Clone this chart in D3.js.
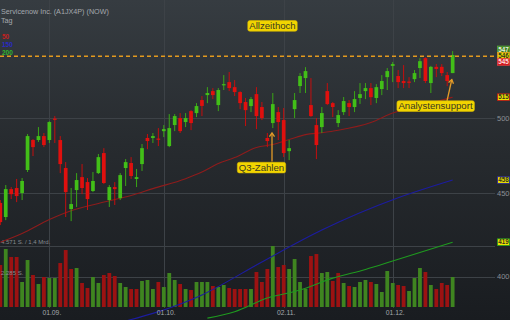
<!DOCTYPE html>
<html><head><meta charset="utf-8">
<script src="https://cdn.jsdelivr.net/npm/d3@7"></script>
<style>html,body{margin:0;padding:0;background:#1b1e22;overflow:hidden}svg{display:block}</style>
</head><body><svg id="c" width="510" height="320"></svg>
<script>
// ---- data ----
const dates = ["19.08.","20.08.","21.08.","24.08.","25.08.","26.08.","27.08.","28.08.","31.08.",
"01.09.","02.09.","03.09.","04.09.","08.09.","09.09.","10.09.","11.09.","14.09.","15.09.","16.09.","17.09.","18.09.","21.09.","22.09.","23.09.","24.09.","25.09.","28.09.","29.09.","30.09.",
"01.10.","02.10.","05.10.","06.10.","07.10.","08.10.","09.10.","12.10.","13.10.","14.10.","15.10.","16.10.","19.10.","20.10.","21.10.","22.10.","23.10.","26.10.","27.10.","28.10.","29.10.","30.10.",
"02.11.","03.11.","04.11.","05.11.","06.11.","09.11.","10.11.","11.11.","12.11.","13.11.","16.11.","17.11.","18.11.","19.11.","20.11.","23.11.","24.11.","25.11.","27.11.","30.11.",
"01.12.","02.12.","03.12.","04.12.","07.12.","08.12.","09.12.","10.12.","11.12.","14.12.","15.12.","16.12."];
const open  = [443.8,435.1,452.5,453.2,450.0,464.8,484.8,484.8,487.5,484.8,499.6,484.8,466.1,440.0,451.9,460.2,457.0,451.3,462.8,476.0,445.6,453.8,446.8,466.1,469.4,459.0,468.7,486.2,486.2,485.8,490.9,480.7,495.1,500.0,497.2,504.9,503.5,512.8,516.4,519.3,509.2,523.7,525.9,522.2,518.6,511.4,508.5,517.1,507.8,486.2,496.5,504.2,498.6,477.3,506.3,523.0,528.9,509.2,495.1,493.7,519.3,510.6,496.5,504.2,510.6,507.8,514.3,519.3,521.5,514.3,520.8,529.6,538.0,530.4,526.7,526.3,528.1,536.4,543.9,525.2,537.3,537.3,531.1,532.6];
const high  = [445.6,455.1,453.8,459.0,459.6,488.9,485.5,493.7,489.6,497.8,501.4,487.5,470.0,453.2,462.8,468.7,459.6,463.5,475.4,479.3,455.1,457.0,462.8,472.0,473.3,465.5,482.1,488.9,489.6,493.0,495.1,502.8,502.8,503.5,503.5,505.6,510.6,515.7,522.2,521.5,521.5,531.1,533.4,527.4,519.2,514.3,515.0,522.2,511.4,489.6,517.9,507.8,507.1,484.8,517.9,532.6,537.1,528.9,500.0,507.8,525.2,511.4,505.6,515.0,512.8,519.3,525.2,525.2,525.2,524.4,531.1,536.4,540.9,534.9,538.6,529.6,534.9,543.9,544.6,538.0,539.4,539.4,533.4,549.3];
const low   = [430.2,433.2,446.2,444.3,445.6,463.5,474.0,483.5,480.0,482.8,482.8,462.8,435.1,432.6,441.3,449.3,439.4,450.6,462.2,455.7,441.3,442.5,445.6,454.5,459.0,453.8,464.2,478.6,482.8,480.7,486.8,480.0,490.9,489.6,493.7,491.6,500.7,501.4,510.6,513.5,504.9,520.1,519.3,515.7,506.3,494.4,504.2,492.3,498.6,480.0,493.0,484.8,473.3,471.3,500.0,517.9,517.9,500.8,472.0,489.6,509.2,500.7,493.7,502.1,501.4,504.2,510.0,513.5,509.2,510.6,516.4,520.1,525.9,521.5,521.5,521.5,525.9,528.9,525.2,517.9,529.6,530.4,522.9,532.6];
const close = [432.0,452.5,449.3,448.1,457.7,487.5,480.0,487.5,481.4,497.2,498.9,468.7,450.6,443.1,458.3,453.2,446.2,457.7,473.3,456.4,453.8,452.5,461.5,470.0,460.9,460.2,479.3,484.1,487.5,485.5,492.3,493.0,501.4,490.9,500.0,496.5,508.5,508.6,517.9,516.4,520.1,524.4,521.5,518.6,510.6,505.6,513.5,501.4,500.0,484.1,509.9,497.2,476.0,479.3,512.8,530.4,534.1,501.4,481.4,503.5,509.9,507.8,502.1,512.1,507.8,513.5,517.1,521.5,514.9,522.2,526.7,534.1,539.4,525.9,525.2,525.9,532.6,541.6,526.7,537.3,535.7,532.6,526.7,546.3];
const volume = [3146,4345,3746,3746,1873,3521,2397,1723,2247,2172,2172,3296,4270,2847,2922,1798,1423,2247,1798,2397,2547,2322,1798,1498,1348,1348,1948,2023,1348,1873,1498,2547,2023,1723,1348,1273,1873,1873,1873,1573,1498,1648,1423,1348,1348,1348,1348,2622,1873,2847,4571,2996,3146,2847,3595,1873,1348,3820,3970,2547,2622,1948,2547,1798,1573,1498,1873,2023,1873,1723,1124,2697,1798,1648,1573,1198,2172,2922,2622,1648,1348,1798,1648,2247];
// moving averages, sampled at candle indices (0-based)
const sma50Idx  = [0,4,9,13,18,24,28,34,37,40,43,47,50,53,56,59,62,68,72,78,83];
const sma50     = [420.0,425.2,433.6,439.0,443.5,448.4,452.8,459.2,463.5,469.0,473.0,479.8,481.8,485.1,488.5,489.8,491.5,496.9,503.5,509.6,514.9];
const sma150Idx = [19,37,48,59,73,83];
const sma150    = [373.0,390.0,408.5,427.2,447.0,458.3];
const sma200Idx = [38,43,49,55,61,67,72,83];
const sma200    = [377.5,380.9,388.3,392.7,399.3,404.2,409.0,420.0];
const priceTicks = [400,450,500];
const volTicks = [2285,4571];
const volTickLabels = ["2.285 S.","4.571 S. / 1,4 Mrd."];
const dateTicks = ["01.09.","01.10.","02.11.","01.12."];
const athValue = 545.4;
const rightLabels = [
  {t:"547", v:547.0, bg:"#3b7d22", fg:"#e6f2dc", bd:"#58a83a"},
  {t:"546", v:545.4, bg:"#efe400", fg:"#33331f", bd:"#e09a20"},
  {t:"545", v:545.0, bg:"#d4161c", fg:"#ffe0e0", bd:"#e84040"},
  {t:"515", v:514.9, bg:"#efe400", fg:"#33331f", bd:"#c01515"},
  {t:"458", v:458.3, bg:"#efe400", fg:"#33331f", bd:"#2020a8"},
  {t:"419", v:420.0, bg:"#efe400", fg:"#33331f", bd:"#20a020"}
];
const notes = [
  {t:"Allzeithoch", cx:272.5, cy:25.8},
  {t:"Q3-Zahlen", cx:261.5, cy:167.5},
  {t:"Analystensupport", cx:435.5, cy:106}
];

// ---- drawing ----
const W=510, H=320;
const svg = d3.select("#c");
const defs = svg.append("defs");
const g = defs.append("linearGradient").attr("id","bg").attr("x1",0).attr("y1",0).attr("x2",0).attr("y2",1);
g.append("stop").attr("offset","0%").attr("stop-color","#363c41");
g.append("stop").attr("offset","45%").attr("stop-color","#272b2f");
g.append("stop").attr("offset","100%").attr("stop-color","#191c20");
svg.append("rect").attr("width",W).attr("height",H).attr("fill","url(#bg)");

const x = d3.scaleLinear().domain([0, dates.length-1]).range([0.3, 452.65]);
const y = d3.scaleLog().domain([376.5, 590.2]).range([320, 0]);
const yv = d3.scaleLinear().domain([0, volTicks[1]]).range([307, 246]);
const font = "'Liberation Sans', Arial, sans-serif";

// gridlines
const grid = svg.append("g").attr("stroke","#3d4247").attr("stroke-width",1);
priceTicks.forEach(p => grid.append("line").attr("x1",0).attr("x2",495).attr("y1",Math.round(y(p))+0.5).attr("y2",Math.round(y(p))+0.5));
volTicks.forEach(v => grid.append("line").attr("x1",0).attr("x2",495).attr("y1",Math.round(yv(v))+0.5).attr("y2",Math.round(yv(v))+0.5));
dateTicks.forEach(d => { const xx = Math.round(x(dates.indexOf(d)))+0.5;
  grid.append("line").attr("x1",xx).attr("x2",xx).attr("y1",0).attr("y2",308); });

// volume bars
const bw = 3.8;
svg.append("g").selectAll("rect").data(volume).join("rect")
  .attr("x",(d,i)=>x(i)-bw/2).attr("width",bw)
  .attr("y",d=>yv(d)).attr("height",d=>307-yv(d))
  .attr("fill",(d,i)=>{ const up = i===0 ? close[i]>=open[i] : close[i]>=close[i-1]; return up?"#3f8520":"#9c1212"; });

// volume labels
svg.append("g").selectAll("text").data(volTicks).join("text")
  .attr("x",1).attr("y",d=>yv(d)-2)
  .attr("font-family",font).attr("font-size",6).attr("fill","#868b90")
  .text((d,i)=>volTickLabels[i]);

// moving averages
const lineGen = d3.line().x(d=>x(d[0])).y(d=>y(d[1])).curve(d3.curveMonotoneX);
[[sma200Idx,sma200,"#1f9a1f"],[sma150Idx,sma150,"#1c1ca0"],[sma50Idx,sma50,"#8e1c1c"]].forEach(([idx,vals,col])=>{
  svg.append("path").datum(idx.map((k,j)=>[k,vals[j]])).attr("d",lineGen)
    .attr("fill","none").attr("stroke",col).attr("stroke-width",1.1);
});

// candles
const cw = 3.7;
const cg = svg.append("g");
dates.forEach((d,i)=>{
  const up = close[i]>=open[i];
  const col = up ? "#42bf18" : "#e0100e";
  const cx = x(i);
  cg.append("line").attr("x1",cx).attr("x2",cx).attr("y1",y(high[i])).attr("y2",y(low[i]))
    .attr("stroke",up?"#3aa616":"#c40e0e").attr("stroke-width",1);
  const top = y(Math.max(open[i],close[i])), bot = y(Math.min(open[i],close[i]));
  cg.append("rect").attr("x",cx-cw/2).attr("width",cw).attr("y",top).attr("height",Math.max(1.2,bot-top))
    .attr("fill",col);
});

// ATH dashed line
svg.append("line").attr("x1",0).attr("x2",496).attr("y1",y(athValue)).attr("y2",y(athValue))
  .attr("stroke","#e39a1e").attr("stroke-width",1.5).attr("stroke-dasharray","4,3");

// price axis labels
svg.append("g").selectAll("text").data(priceTicks).join("text")
  .attr("x",497).attr("y",d=>y(d)+2.5).attr("font-family",font).attr("font-size",7.5)
  .attr("fill","#8b9095").text(d=>d);

// x axis labels
svg.append("g").selectAll("text").data(dateTicks).join("text")
  .attr("x",d=>x(dates.indexOf(d))+2.5).attr("y",314.5).attr("text-anchor","middle")
  .attr("font-family",font).attr("font-size",6.8).attr("fill","#a3a8ad").text(d=>d);

// right value labels with simple de-overlap
const rl = rightLabels.map(l=>({...l, py:y(l.v)})).sort((a,b)=>a.py-b.py);
const gap = 6.3;
for (let k=0;k<20;k++){
  for (let i=1;i<rl.length;i++){
    const ov = gap - (rl[i].py - rl[i-1].py);
    if (ov>0){ rl[i].py += ov/2; rl[i-1].py -= ov/2; }
  }
}
const rg = svg.append("g");
rl.forEach(l=>{
  rg.append("rect").attr("x",497.5).attr("y",l.py-3.3).attr("width",12).attr("height",6.6)
    .attr("fill",l.bg).attr("stroke",l.bd).attr("stroke-width",0.8);
  rg.append("text").attr("x",498.3).attr("y",l.py+2.3).attr("font-family",font).attr("font-size",6.3)
    .attr("font-weight","bold").attr("fill",l.fg).text(l.t);
});

// annotations
const ag = svg.append("g").attr("font-family",font);
function arrow(x1,y1,x2,y2){
  ag.append("line").attr("x1",x1).attr("y1",y1).attr("x2",x2).attr("y2",y2)
    .attr("stroke","#e49b27").attr("stroke-width",1.3);
  const a = Math.atan2(y2-y1,x2-x1), s=4.5;
  const p1=[x2-s*Math.cos(a-0.6), y2-s*Math.sin(a-0.6)], p2=[x2-s*Math.cos(a+0.6), y2-s*Math.sin(a+0.6)];
  ag.append("path").attr("d",`M${p1}L${x2},${y2}L${p2}`).attr("fill","none")
    .attr("stroke","#e49b27").attr("stroke-width",1.3);
}
arrow(272, 161.5, 272, 133);
arrow(447, 101, 451.8, 79.5);
notes.forEach(n=>{
  const t = ag.append("text").attr("x",n.cx).attr("y",n.cy+3.4).attr("text-anchor","middle")
    .attr("font-size",9.6).attr("fill","#3a3a22").text(n.t);
  const bb = t.node().getBBox();
  ag.insert("rect","text").attr("x",bb.x-1.5).attr("y",n.cy-5.2).attr("width",bb.width+3).attr("height",10.6)
    .attr("rx",2).attr("fill","#f2d500").attr("stroke","#d9b800").attr("stroke-width",0.6);
  t.raise();
});

// header texts
const hg = svg.append("g").attr("font-family",font);
hg.append("text").attr("x",1).attr("y",13.5).attr("font-size",7.2).attr("fill","#a4a9ae")
  .text("Servicenow Inc. (A1JX4P) (NOW)");
hg.append("text").attr("x",1).attr("y",22.5).attr("font-size",7.2).attr("fill","#a4a9ae").text("Tag");
[["50","#c42020",39],["150","#2a2ac4",47],["200","#2fb52f",55]].forEach(([t,c,yy])=>
  hg.append("text").attr("x",2).attr("y",yy).attr("font-size",6.5).attr("font-weight","bold").attr("fill",c).text(t));
</script>
</body></html>
